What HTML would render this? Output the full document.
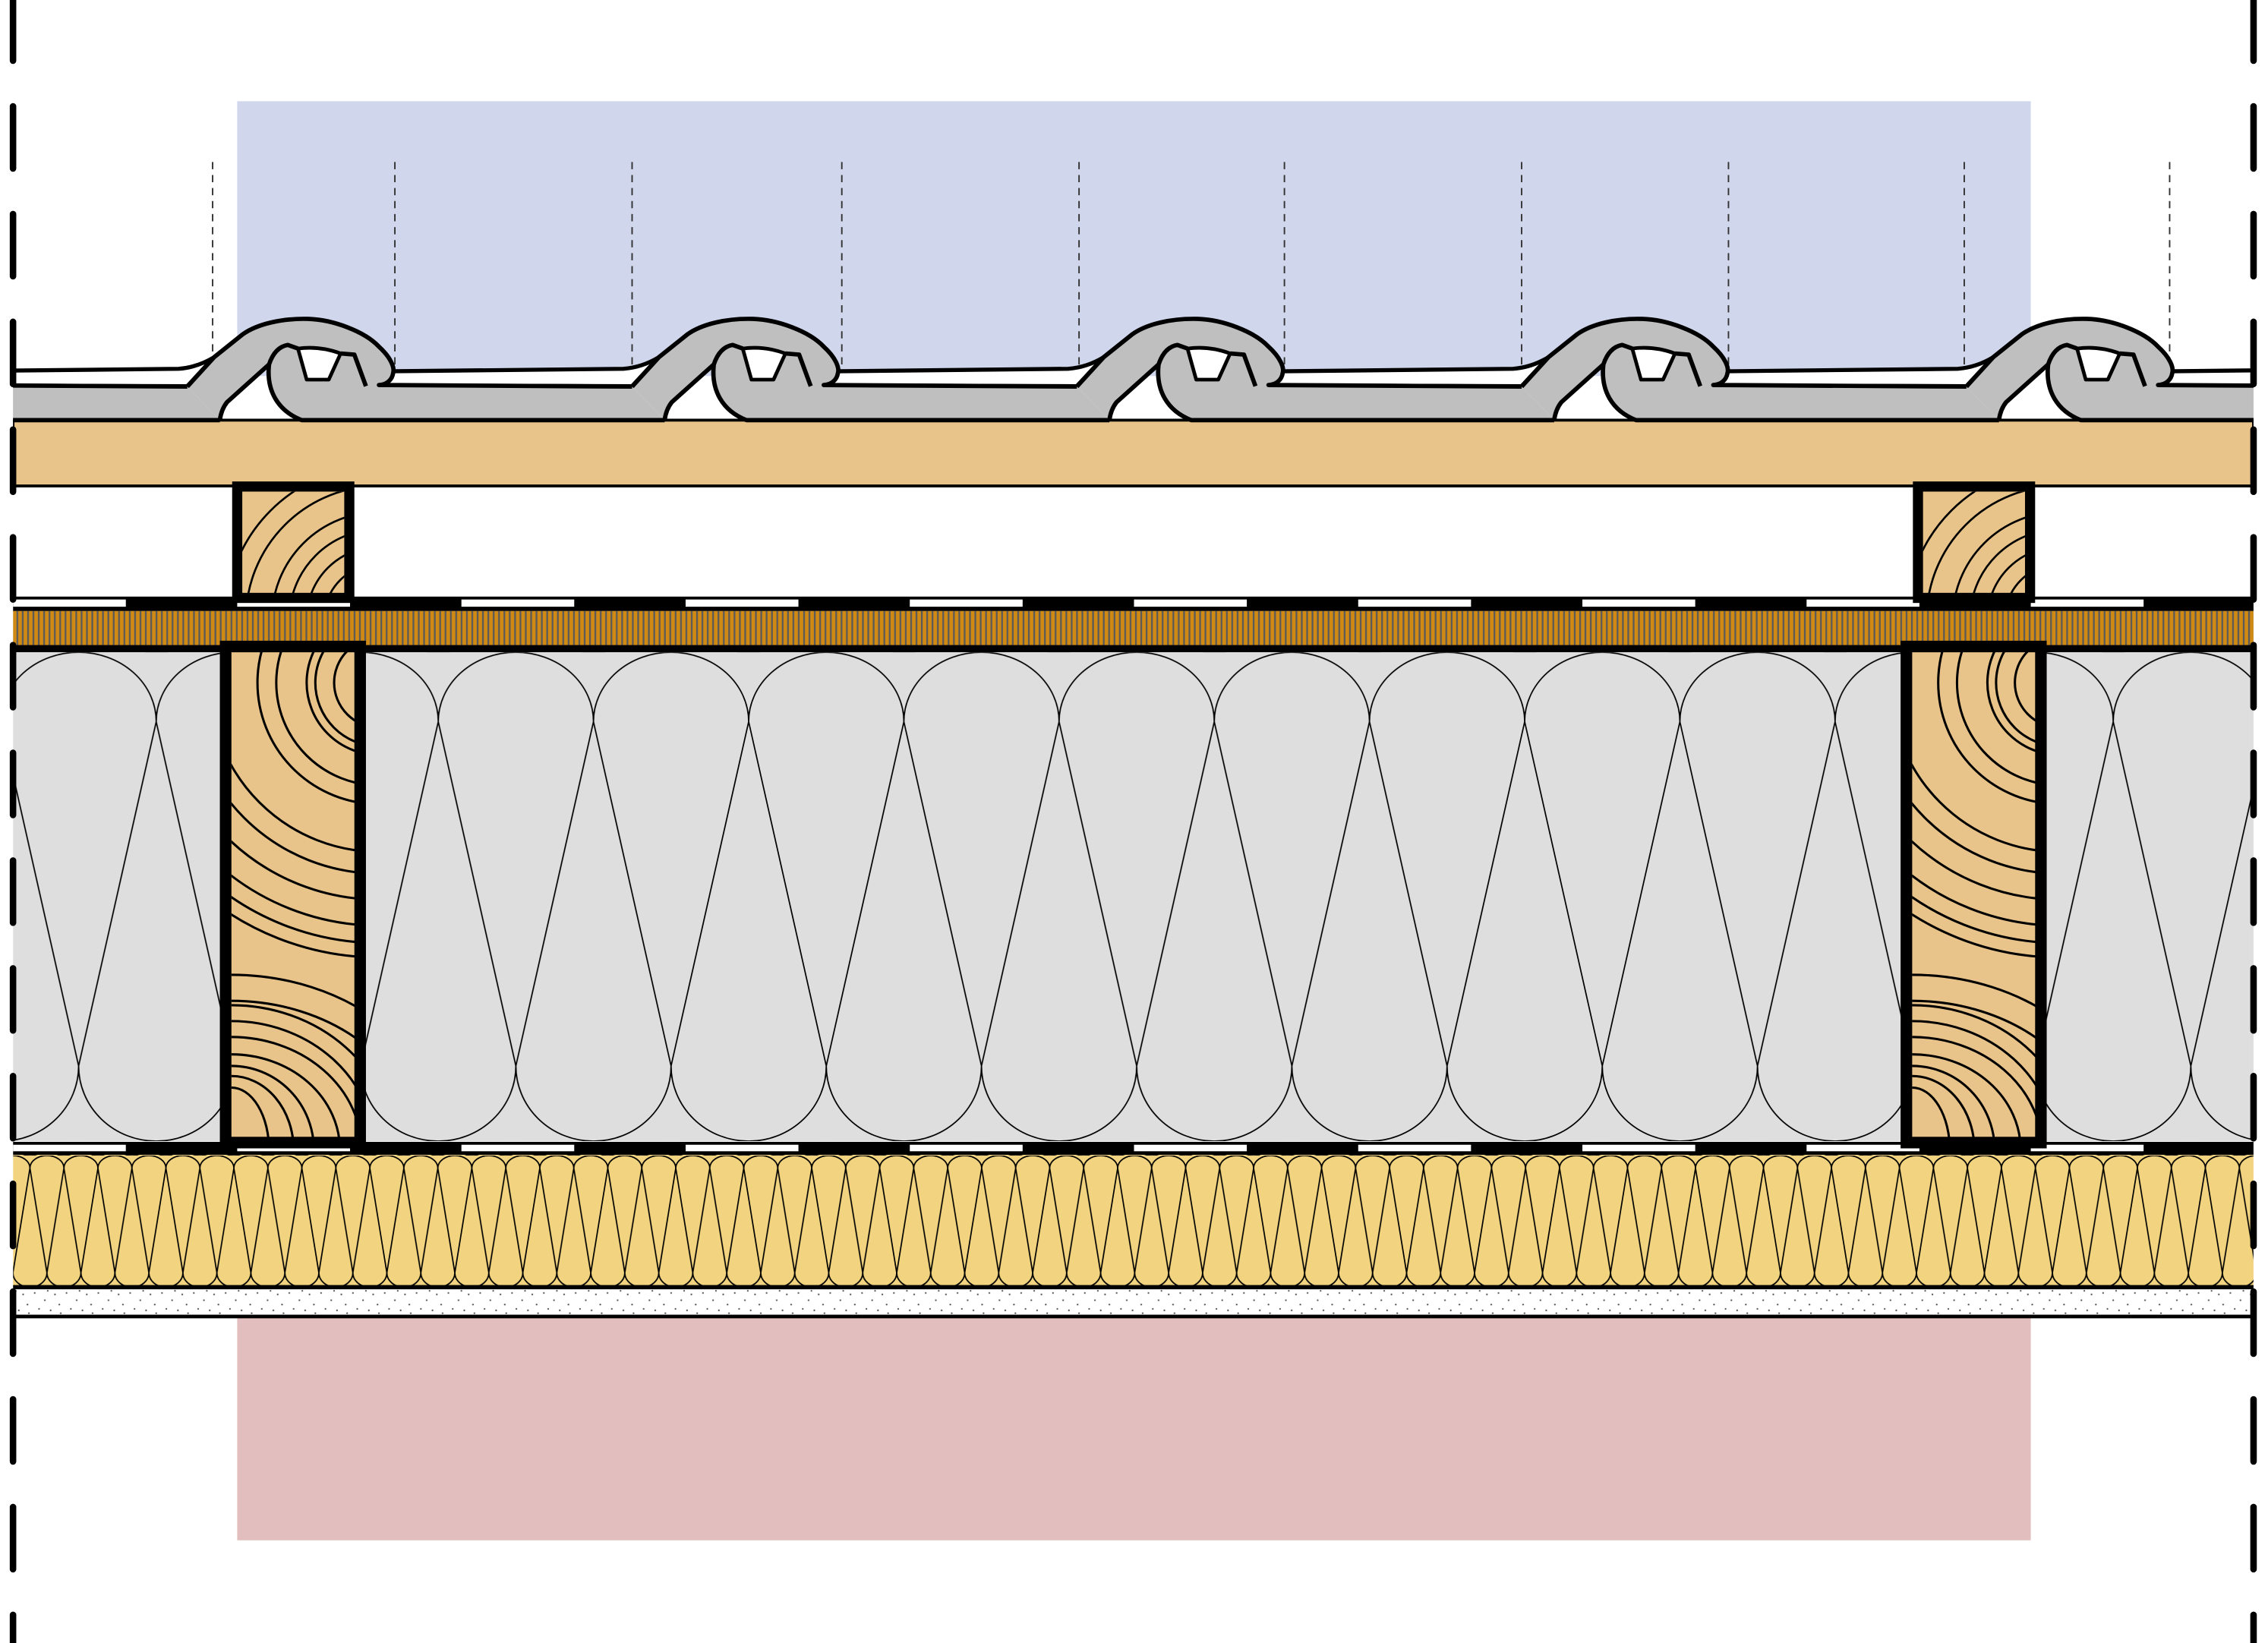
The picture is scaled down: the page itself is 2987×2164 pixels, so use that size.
<!DOCTYPE html>
<html><head><meta charset="utf-8"><style>html,body{margin:0;padding:0;background:#fff}svg{display:block}</style></head>
<body>
<svg width="2987" height="2164" viewBox="0 0 1568 1136" preserveAspectRatio="none" xmlns="http://www.w3.org/2000/svg">
<defs>
<clipPath id="main"><rect x="9" y="0" width="1549" height="1136"/></clipPath>
<pattern id="fib" patternUnits="userSpaceOnUse" x="9" y="0" width="3.7" height="40"><rect width="3.7" height="40" fill="#D08A14"/><rect x="2.4" width="1.2" height="40" fill="#5a5a5a"/></pattern>
<pattern id="insL" patternUnits="userSpaceOnUse" x="108" y="451" width="107.3" height="338">
<rect width="107.3" height="338" fill="#DEDEDE"/>
<path d="M0,48 A53.65,48 0 0 1 107.3,48 M0,48 L53.65,286 L107.3,48 M-53.65,286 A53.65,52 0 0 0 53.65,286 A53.65,52 0 0 0 160.95,286" fill="none" stroke="#000" stroke-width="0.9"/></pattern>
<pattern id="insM" patternUnits="userSpaceOnUse" x="303" y="451" width="107.3" height="338">
<rect width="107.3" height="338" fill="#DEDEDE"/>
<path d="M0,48 A53.65,48 0 0 1 107.3,48 M0,48 L53.65,286 L107.3,48 M-53.65,286 A53.65,52 0 0 0 53.65,286 A53.65,52 0 0 0 160.95,286" fill="none" stroke="#000" stroke-width="0.9"/></pattern>
<pattern id="insR" patternUnits="userSpaceOnUse" x="1461" y="451" width="107.3" height="338">
<rect width="107.3" height="338" fill="#DEDEDE"/>
<path d="M0,48 A53.65,48 0 0 1 107.3,48 M0,48 L53.65,286 L107.3,48 M-53.65,286 A53.65,52 0 0 0 53.65,286 A53.65,52 0 0 0 160.95,286" fill="none" stroke="#000" stroke-width="0.9"/></pattern>
<pattern id="yel" patternUnits="userSpaceOnUse" x="20.7" y="799" width="23.5" height="91">
<rect width="23.5" height="91" fill="#F2D480"/>
<path d="M0,8.7 A11.75,8.7 0 0 1 23.5,8.7 M0,8.7 L11.75,81 L23.5,8.7 M-11.75,81 A11.75,10 0 0 0 11.75,81 A11.75,10 0 0 0 35.25,81" fill="none" stroke="#000" stroke-width="0.9"/></pattern>
<pattern id="dots" patternUnits="userSpaceOnUse" x="0" y="891" width="22" height="19">
<rect width="22" height="19" fill="#fff"/>
<g fill="#555"><circle cx="2" cy="3" r="0.6"/><circle cx="9" cy="8" r="0.6"/><circle cx="16" cy="4" r="0.6"/><circle cx="5" cy="14" r="0.6"/><circle cx="13" cy="15" r="0.6"/><circle cx="19" cy="11" r="0.6"/><circle cx="11" cy="1.5" r="0.6"/><circle cx="20" cy="17" r="0.6"/></g></pattern>
<clipPath id="raf"><rect x="160" y="450.6" width="85.4" height="337.4"/></clipPath>
<clipPath id="cb"><rect x="167.5" y="340" width="70.5" height="70"/></clipPath>
<g id="tile">
<path d="M152,290.5 L129.5,267.3 L148,247 L168,231 C178,224 195,220 213,220.5 C230,221 252,229 262,239.7 C270,247 273,254 271.8,258 C271,263 267,266 262,266.2 L437,267.3 L459.5,290.5 L208.6,290.5 C192,284 184,270 186,252 L157,278 Q153,283 152,290.5 Z" fill="#BFBFBF"/>
<path d="M129.5,267.3 L148,247 L168,231 C178,224 195,220 213,220.5 C230,221 252,229 262,239.7 C270,247 273,254 271.8,258 C271,263 267,266 262,266.2 L437,267.3 M459.5,290.5 L208.6,290.5 C192,284 184,270 186,252 L157,278 Q153,283 152,290.5 M186,252 Q190,240 199,238.5 L206,241 M235.5,244.4 L245,245.2 L253,267" fill="none" stroke="#000" stroke-width="3" stroke-linejoin="round"/>
<path d="M206,241 L212,262.5 L227.3,262.5 L235.5,244.4 Q221,239 206,241 Z" fill="#fff" stroke="#000" stroke-width="2.5" stroke-linejoin="round"/>
</g>
<path id="strip" d="M262,256.8 L431,255 Q444,254 455.5,247 L437,267 L262,266.5 Z" fill="#fff" stroke="#000" stroke-width="2.8" stroke-linejoin="round"/>
<g id="rafter">
<rect x="156" y="447" width="93" height="343" fill="#E8C48A"/>
<g clip-path="url(#raf)" fill="none" stroke="#000" stroke-width="1.6">
<circle cx="262" cy="472" r="31"/><circle cx="262" cy="472" r="44"/><circle cx="262" cy="472" r="50"/><circle cx="262" cy="472" r="71"/><circle cx="262" cy="472" r="84"/><circle cx="262" cy="472" r="117"/><circle cx="262" cy="472" r="132"/><circle cx="262" cy="472" r="150"/><circle cx="262" cy="472" r="168"/><circle cx="262" cy="472" r="180"/><circle cx="262" cy="472" r="190"/>
<ellipse cx="160" cy="795" rx="26" ry="43"/><ellipse cx="160" cy="795" rx="43" ry="51"/><ellipse cx="160" cy="795" rx="57" ry="58"/><ellipse cx="160" cy="795" rx="75" ry="66"/><ellipse cx="160" cy="795" rx="90" ry="78"/><ellipse cx="160" cy="795" rx="99" ry="89"/><ellipse cx="160" cy="795" rx="112" ry="100"/><ellipse cx="160" cy="795" rx="130" ry="103"/><ellipse cx="160" cy="795" rx="150" ry="121"/>
</g>
<rect x="156" y="447" width="93" height="343" fill="none" stroke="#000" stroke-width="8"/>
</g>
<g id="cbat">
<rect x="164" y="336.4" width="77.5" height="77" fill="#E8C48A"/>
<g clip-path="url(#cb)" fill="none" stroke="#000" stroke-width="1.4">
<circle cx="262" cy="428" r="38"/><circle cx="262" cy="428" r="50"/><circle cx="262" cy="428" r="62"/><circle cx="262" cy="428" r="74"/><circle cx="262" cy="428" r="92"/><circle cx="262" cy="428" r="106"/>
</g>
<rect x="164" y="336.4" width="77.5" height="77" fill="none" stroke="#000" stroke-width="7"/>
</g>
</defs>

<rect x="164" y="70" width="1240" height="190" fill="#D0D6EB"/>
<rect x="164" y="911" width="1240" height="154" fill="#E2BEBE"/>

<g stroke="#333" stroke-width="1" stroke-dasharray="5,4">
<line x1="147" y1="112" x2="147" y2="250"/><line x1="273" y1="112" x2="273" y2="256"/><line x1="437" y1="112" x2="437" y2="252"/><line x1="582" y1="112" x2="582" y2="256"/><line x1="746" y1="112" x2="746" y2="252"/><line x1="888" y1="112" x2="888" y2="256"/><line x1="1052" y1="112" x2="1052" y2="252"/><line x1="1195" y1="112" x2="1195" y2="256"/><line x1="1358" y1="112" x2="1358" y2="252"/><line x1="1500" y1="112" x2="1500" y2="256"/>
</g>

<g clip-path="url(#main)">
<rect x="9" y="290.5" width="1549" height="45.5" fill="#E8C48A" stroke="#000" stroke-width="2"/>
<use href="#strip" transform="translate(-307.5,0)"/>
<use href="#strip"/>
<use href="#strip" transform="translate(307.5,0)"/>
<use href="#strip" transform="translate(615,0)"/>
<use href="#strip" transform="translate(922.5,0)"/>
<use href="#strip" transform="translate(1230,0)"/>
<use href="#tile" transform="translate(-307.5,0)"/>
<use href="#tile"/>
<use href="#tile" transform="translate(307.5,0)"/>
<use href="#tile" transform="translate(615,0)"/>
<use href="#tile" transform="translate(922.5,0)"/>
<use href="#tile" transform="translate(1230,0)"/>

<rect x="9" y="412.5" width="1549" height="10" fill="#000"/>
<g fill="#fff">
<rect x="9" y="414.5" width="78" height="5"/><rect x="164" y="414.5" width="78" height="5"/><rect x="319" y="414.5" width="78" height="5"/><rect x="474" y="414.5" width="78" height="5"/><rect x="629" y="414.5" width="78" height="5"/><rect x="784" y="414.5" width="78" height="5"/><rect x="939" y="414.5" width="78" height="5"/><rect x="1094" y="414.5" width="78" height="5"/><rect x="1249" y="414.5" width="78" height="5"/><rect x="1404" y="414.5" width="78" height="5"/>
</g>
<rect x="9" y="422.5" width="1549" height="24" fill="url(#fib)"/>
<rect x="9" y="446" width="1549" height="5" fill="#000"/>
<rect x="9" y="451" width="147" height="338" fill="url(#insL)"/>
<rect x="249" y="451" width="1070" height="338" fill="url(#insM)"/>
<rect x="1410" y="451" width="148" height="338" fill="url(#insR)"/>
<rect x="9" y="789.5" width="1549" height="9" fill="#000"/>
<g fill="#fff">
<rect x="9" y="791.5" width="78" height="4.5"/><rect x="164" y="791.5" width="78" height="4.5"/><rect x="319" y="791.5" width="78" height="4.5"/><rect x="474" y="791.5" width="78" height="4.5"/><rect x="629" y="791.5" width="78" height="4.5"/><rect x="784" y="791.5" width="78" height="4.5"/><rect x="939" y="791.5" width="78" height="4.5"/><rect x="1094" y="791.5" width="78" height="4.5"/><rect x="1249" y="791.5" width="78" height="4.5"/><rect x="1404" y="791.5" width="78" height="4.5"/>
</g>
<rect x="9" y="798.5" width="1549" height="91" fill="url(#yel)"/>
<rect x="9" y="888.5" width="1549" height="3" fill="#000"/>
<rect x="9" y="891.5" width="1549" height="17.5" fill="url(#dots)"/>
<rect x="9" y="909" width="1549" height="2.5" fill="#000"/>
</g>

<use href="#cbat"/>
<use href="#cbat" transform="translate(1162,0)"/>
<use href="#rafter"/>
<use href="#rafter" transform="translate(1162,0)"/>

<g stroke="#000" stroke-width="4.5" stroke-linecap="round" stroke-dasharray="43,31.5">
<line x1="9" y1="-1" x2="9" y2="1136"/>
<line x1="1558" y1="-1" x2="1558" y2="1136"/>
</g>
</svg>
</body></html>
